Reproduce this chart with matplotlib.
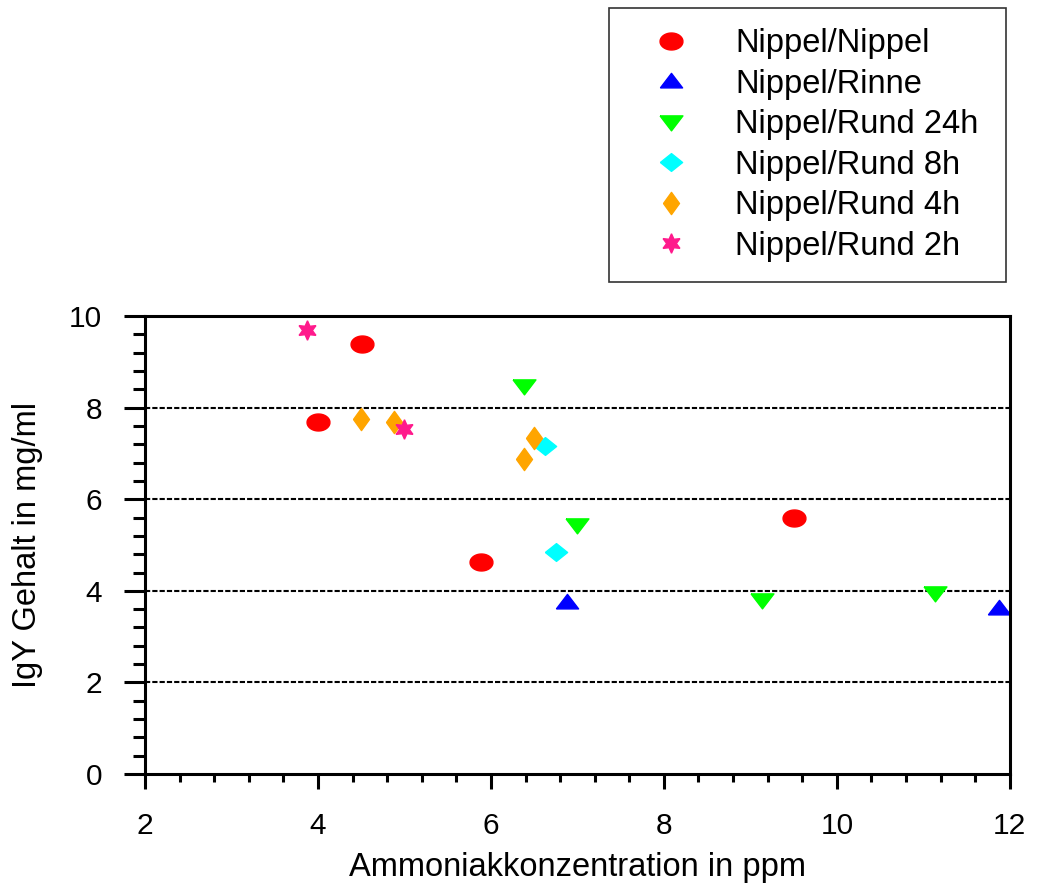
import numpy as np
import matplotlib
matplotlib.use("Agg")
import matplotlib.pyplot as plt
from matplotlib.path import Path
from matplotlib.ticker import MultipleLocator

plt.rcParams['font.family'] = ['Liberation Sans', 'DejaVu Sans']

# data
nn_x = [4.0, 4.51, 5.88, 9.5]
nn_y = [7.69, 9.39, 4.63, 5.59]

ri_x = [6.88, 11.88]
ri_y = [3.76, 3.62]

r24_x = [6.38, 7.0, 9.13, 11.13]
r24_y = [8.47, 5.43, 3.8, 3.95]

r8_x = [6.62, 6.75]
r8_y = [7.16, 4.85]

r4_x = [4.5, 4.88, 6.5, 6.38]
r4_y = [7.75, 7.69, 7.33, 6.88]

r2_x = [3.87, 5.0]
r2_y = [9.69, 7.53]

labels = ["Nippel/Nippel", "Nippel/Rinne", "Nippel/Rund 24h",
          "Nippel/Rund 8h", "Nippel/Rund 4h", "Nippel/Rund 2h"]

# custom marker shapes
t = np.linspace(0, 2 * np.pi, 40)
ellipse = Path(np.column_stack([1.35 * np.cos(t), np.sin(t)]))
tri_up = Path([(-1.3, -0.75), (1.3, -0.75), (0, 0.95), (-1.3, -0.75)])
tri_dn = Path([(-1.3, 0.75), (1.3, 0.75), (0, -0.95), (-1.3, 0.75)])
wide_dia = Path([(-1.25, 0), (0, 1), (1.25, 0), (0, -1), (-1.25, 0)])
tall_dia = Path([(-0.72, 0), (0, 1), (0.72, 0), (0, -1), (-0.72, 0)])

fig = plt.figure(figsize=(10.37, 8.85), dpi=100)
ax = fig.add_axes([0.1398, 0.1254, 0.834, 0.5175])

h1, = ax.plot(nn_x, nn_y, ls='none', marker=ellipse, ms=16.5, color='#ff0000', mec='#ff0000')
h2, = ax.plot(ri_x, ri_y, ls='none', marker=tri_up, ms=16, color='#0000ff')
h3, = ax.plot(r24_x, r24_y, ls='none', marker=tri_dn, ms=16.5, color='#00ff00')
h4, = ax.plot(r8_x, r8_y, ls='none', marker=wide_dia, ms=16, color='#00ffff')
h5, = ax.plot(r4_x, r4_y, ls='none', marker=tall_dia, ms=16, color='#ffa500')
h6, = ax.plot(r2_x, r2_y, ls='none', marker=(6, 1, 0), ms=14, color='#ff1a8c')

ax.set_xlim(2, 12)
ax.set_ylim(0, 10)
ax.xaxis.set_major_locator(MultipleLocator(2))
ax.xaxis.set_minor_locator(MultipleLocator(0.4))
ax.yaxis.set_major_locator(MultipleLocator(2))
ax.yaxis.set_minor_locator(MultipleLocator(0.4))

ax.tick_params(which='major', direction='out', length=11, width=2.2, labelsize=21.5, pad=16)
ax.tick_params(which='minor', direction='out', length=6, width=2.2)
ax.tick_params(axis='y', which='major', length=15)
ax.tick_params(axis='y', which='minor', length=9)

for s in ax.spines.values():
    s.set_linewidth(2.2)

for yv in [2, 4, 6, 8]:
    ax.axhline(yv, color='black', lw=1.5, ls=(0, (2.5, 1)), zorder=0)

ax.set_xlabel("Ammoniakkonzentration in ppm", fontsize=23.5)
ax.set_ylabel("IgY Gehalt in mg/ml", fontsize=23.5)
ax.xaxis.set_label_coords(0.5, -0.17)
ax.yaxis.set_label_coords(-0.118, 0.5)

leg = fig.legend([h1, h2, h3, h4, h5, h6], labels, loc='upper left',
                 bbox_to_anchor=(609 / 1037, 1 - 280 / 885, 397 / 1037, 272 / 885),
                 mode='expand', fontsize=23.5,
                 frameon=True, fancybox=False, edgecolor='black',
                 handletextpad=0.7, labelspacing=0.29, borderpad=0.62,
                 handlelength=2.55, borderaxespad=0)
leg.get_frame().set_linewidth(1.2)

fig.savefig("out.png", dpi=100)
